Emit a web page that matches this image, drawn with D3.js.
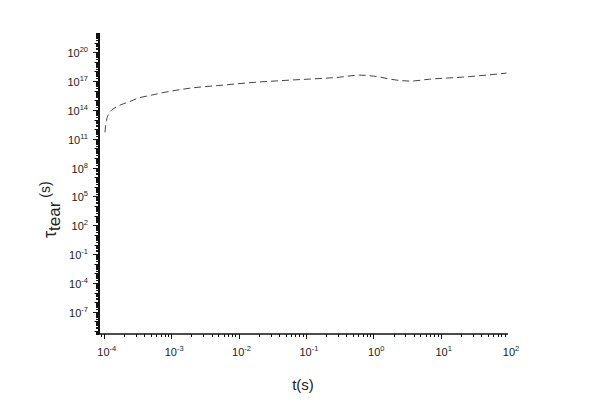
<!DOCTYPE html>
<html>
<head>
<meta charset="utf-8">
<script src="https://cdn.jsdelivr.net/npm/d3@7"></script>
<style>
  body { margin: 0; background: #fff; }
  text { font-family: "Liberation Sans", Arial, sans-serif; fill: #222; }
</style>
</head>
<body>
<svg id="chart"></svg>
<script>
// size of the page
var svgWidth = 592;
var svgHeight = 417;

// curve: t (s) and log10 of tau_tear (s)
var tValues = [1.043e-4, 1.065e-4, 1.098e-4, 1.156e-4, 1.28e-4, 1.47e-4, 1.8e-4, 2.29e-4,
  3.22e-4, 5.2e-4, 6.5e-4, 1.9e-3, 5.9e-3, 0.0188, 0.058, 0.32, 0.63, 1.0, 2.23, 3.5, 6.9, 21, 95];
var tauExp = [11.67, 12.3, 12.92, 13.44, 13.91, 14.23, 14.54, 14.8,
  15.22, 15.55, 15.7, 16.26, 16.58, 16.89, 17.1, 17.41, 17.62, 17.52, 17.1, 17.0, 17.2, 17.41, 17.83];

var xTickExp = [-4, -3, -2, -1, 0, 1, 2];
var yTickExp = [-7, -4, -1, 2, 5, 8, 11, 14, 17, 20];

var margin = {left: 99, right: 84, top: 33, bottom: 83};

var svg = d3.select("#chart")
  .attr("width", svgWidth)
  .attr("height", svgHeight);

var x = d3.scaleLog()
  .domain([8.5e-5, 100])
  .range([margin.left, svgWidth - margin.right]);

var y = d3.scaleLog()
  .domain([5e-10, 1e22])
  .range([svgHeight - margin.bottom, margin.top]);

var x0 = margin.left, y0 = svgHeight - margin.bottom;

// minor ticks for every decade
function minorTicks(lo, hi) {
  var out = [];
  for (var e = lo; e <= hi; e++) {
    for (var m = 1; m < 10; m++) out.push(m * Math.pow(10, e));
  }
  return out;
}

var xMinor = minorTicks(-5, 1).filter(function (v) { return v >= 8.5e-5 && v <= 100; });
var yMinor = minorTicks(-10, 21).filter(function (v) { return v >= 5e-10 && v <= 1e22; });

var axes = svg.append("g").attr("stroke", "#111");

axes.selectAll(".xminor")
  .data(xMinor)
  .enter()
  .append("line")
  .attr("x1", function (d) { return Math.round(x(d)) + 0.5; })
  .attr("x2", function (d) { return Math.round(x(d)) + 0.5; })
  .attr("y1", y0)
  .attr("y2", function (d) {
    var e = Math.log10(d);
    return Math.abs(e - Math.round(e)) < 1e-9 ? y0 + 5 : y0 + 3;
  })
  .attr("stroke-width", 1);

axes.selectAll(".yminor")
  .data(yMinor)
  .enter()
  .append("line")
  .attr("y1", function (d) { return Math.round(y(d)) + 0.5; })
  .attr("y2", function (d) { return Math.round(y(d)) + 0.5; })
  .attr("x1", x0)
  .attr("x2", function (d) {
    var e = Math.log10(d);
    if (Math.abs(e - Math.round(e)) < 1e-9) {
      return yTickExp.indexOf(Math.round(e)) >= 0 ? x0 - 6 : x0 - 4.5;
    }
    return x0 - 3;
  })
  .attr("stroke-width", 1);

// axis lines
axes.append("line")
  .attr("x1", x0).attr("x2", x0)
  .attr("y1", margin.top).attr("y2", y0)
  .attr("stroke-width", 2);
axes.append("line")
  .attr("x1", x0).attr("x2", svgWidth - margin.right)
  .attr("y1", y0).attr("y2", y0)
  .attr("stroke-width", 1.5);

// tick labels
var xl = svg.selectAll(".xlab")
  .data(xTickExp)
  .enter()
  .append("text")
  .attr("x", function (d) { return x(Math.pow(10, d)) + 3; })
  .attr("y", y0 + 22)
  .attr("text-anchor", "middle")
  .style("font-size", "11px");
xl.append("tspan").text("10");
xl.append("tspan").attr("dy", -5).style("font-size", "7.5px").text(function (d) { return d; });

var yl = svg.selectAll(".ylab")
  .data(yTickExp)
  .enter()
  .append("text")
  .attr("x", x0 - 11)
  .attr("y", function (d) { return y(Math.pow(10, d)) + 5; })
  .attr("text-anchor", "end")
  .style("font-size", "11px");
yl.append("tspan").text("10");
yl.append("tspan").attr("dy", -5).style("font-size", "7.5px").text(function (d) { return d; });

// axis titles
svg.append("text")
  .attr("x", 303)
  .attr("y", 390)
  .attr("text-anchor", "middle")
  .style("font-size", "15px")
  .text("t(s)");

var yt = svg.append("text")
  .attr("transform", "translate(56,238) rotate(-90)")
  .attr("text-anchor", "start")
  .style("font-size", "18px");
yt.append("tspan").text("\u03c4");
yt.append("tspan").attr("dy", 4).style("font-size", "17px").text("tear");
yt.append("tspan").attr("dy", -10).style("font-size", "14px").text(" (s)");

// curve
var pts = tValues.map(function (t, i) { return [t, Math.pow(10, tauExp[i])]; });
var line = d3.line()
  .curve(d3.curveMonotoneX)
  .x(function (d) { return x(d[0]); })
  .y(function (d) { return y(d[1]); });

svg.append("path")
  .datum(pts)
  .attr("d", line)
  .attr("fill", "none")
  .attr("stroke", "#444")
  .attr("stroke-width", 1)
  .attr("stroke-dasharray", "7,4");
</script>
</body>
</html>
